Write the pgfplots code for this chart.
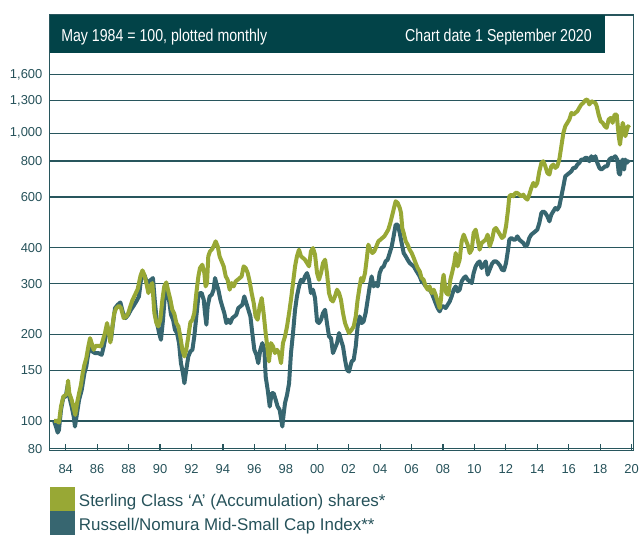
\documentclass[border=0pt]{standalone}
\usepackage{fontspec}
\setmainfont{Liberation Sans}
\newfontfamily\narrowfont[FakeStretch=0.82]{Liberation Sans}
\usepackage{pgfplots}
\pgfplotsset{compat=1.18}
\definecolor{grn}{RGB}{152,168,53}
\definecolor{tl}{RGB}{55,102,112}
\definecolor{hdr}{RGB}{2,67,72}
\definecolor{grd}{RGB}{40,86,93}
\definecolor{txt}{RGB}{38,82,90}
\begin{document}
\begin{tikzpicture}
\begin{axis}[
  scale only axis,
  width=437.7bp, height=326.8bp,
  ymode=log,
  xmin=1983.982, xmax=2021.107,
  ymin=78.8, ymax=2575,
  xtick={1985,1987,...,2021},
  xticklabels={84,86,88,90,92,94,96,98,00,02,04,06,08,10,12,14,16,18,20},
  ytick={80,100,150,200,300,400,600,800,1000,1300,1600},
  yticklabels={80,100,150,200,300,400,600,800,{1,000},{1,300},{1,600}},
  yminorticks=false,
  ymajorgrids,
  grid style={draw=grd, line width=0.9bp},
  axis line style={draw=grd, line width=0.9bp},
  tick pos=left,
  tick align=inside,
  major tick length=5.25bp,
  xtick style={draw=grd, line width=0.9bp},
  ytick style={draw=none},
  tick label style={font=\fontsize{9.75}{11}\selectfont, text=txt},
  xticklabel style={anchor=north, inner sep=0pt, yshift=-10bp},
  yticklabel style={anchor=east, inner sep=0pt, xshift=-5.3bp},
  legend style={at={(axis description cs:0.0005,-0.0840)}, anchor=north west,
    draw=none, fill=none, inner sep=0pt, outer sep=0pt, row sep=-1.5bp,
    font=\fontsize{12.75}{14}\selectfont, text=txt,
    cells={anchor=base west},
    nodes={inner sep=0pt, text depth=0pt},
    /tikz/every odd column/.append style={column sep=3bp}},
  legend image code/.code={\fill[#1] (0bp,-3.25bp) rectangle (15.75bp,13.05bp);},
]
\addlegendimage{color=grn, line width=3bp}
\addlegendentry{Sterling Class ‘A’ (Accumulation) shares*}
\addlegendimage{color=tl, line width=3bp}
\addlegendentry{Russell/Nomura Mid-Small Cap Index**}

% Russell/Nomura Mid-Small Cap Index
\addplot[color=tl, line width=3bp, line join=round, forget plot] coordinates {
(1984.26,100) (1984.38,95.6) (1984.49,91.1) (1984.57,93.0) (1984.70,109.2) (1984.85,120.9) (1985.00,121.5) (1985.13,133.4) (1985.25,119.9) (1985.38,112.2) (1985.51,103.5) (1985.59,95.6) (1985.72,106.3) (1985.85,118.3) (1986.02,128.2) (1986.19,146.5) (1986.31,154.6) (1986.44,172.1) (1986.57,186.4) (1986.69,174.4) (1986.86,172.1) (1987.08,172.1) (1987.29,169.8) (1987.42,181.5) (1987.54,196.6) (1987.63,213.0) (1987.75,202.0) (1987.88,191.4) (1988.01,218.8) (1988.14,246.7) (1988.31,253.4) (1988.48,258.1) (1988.65,237.0) (1988.81,227.7) (1988.98,233.8) (1989.15,243.4) (1989.32,251.3) (1989.49,260.2) (1989.66,270.9) (1989.79,309.5) (1989.92,326.5) (1990.04,317.9) (1990.17,301.4) (1990.30,305.5) (1990.43,309.5) (1990.55,313.7) (1990.68,256.8) (1990.81,218.8) (1990.94,202.0) (1991.06,191.4) (1991.19,224.7) (1991.32,278.2) (1991.44,285.8) (1991.57,263.7) (1991.70,233.8) (1991.83,224.7) (1991.95,207.4) (1992.08,202.0) (1992.21,186.4) (1992.33,158.8) (1992.46,146.5) (1992.55,135.2) (1992.67,150.5) (1992.80,167.5) (1992.93,174.4) (1993.06,176.7) (1993.18,196.6) (1993.31,230.7) (1993.44,270.9) (1993.54,278.2)
(1993.65,278.2) (1993.78,263.7) (1993.86,237.0) (1993.95,215.9) (1994.03,250.0) (1994.16,270.9) (1994.29,274.5) (1994.41,285.8) (1994.50,313.7) (1994.58,301.4) (1994.71,285.8) (1994.84,263.7) (1994.96,250.0) (1995.09,237.0) (1995.22,218.8) (1995.35,224.7) (1995.47,218.8) (1995.60,227.7) (1995.73,230.7) (1995.85,233.8) (1995.98,246.7) (1996.11,250.0) (1996.24,253.4) (1996.36,270.9) (1996.49,256.8) (1996.62,243.4) (1996.75,230.7) (1996.87,202.0) (1997.00,176.7) (1997.13,169.8) (1997.25,158.8) (1997.38,176.7) (1997.51,186.4) (1997.64,176.7) (1997.72,142.6) (1997.85,128.2) (1997.98,112.2) (1998.10,124.8) (1998.23,124.8) (1998.36,118.3) (1998.48,112.2) (1998.61,109.2) (1998.70,102.1) (1998.78,95.6) (1998.87,106.3) (1998.95,115.2) (1999.08,123.1) (1999.21,135.2) (1999.33,172.1) (1999.46,202.0) (1999.59,243.4) (1999.71,270.9) (1999.84,293.5) (1999.97,309.5) (2000.10,305.5) (2000.22,317.9) (2000.35,326.5) (2000.48,309.5) (2000.60,278.2) (2000.73,285.8) (2000.86,267.3) (2000.99,221.7) (2001.11,218.8) (2001.24,224.7) (2001.37,237.0) (2001.50,243.4) (2001.62,218.8) (2001.75,196.6) (2001.88,194.0) (2002.00,172.1) (2002.13,179.1) (2002.26,186.4) (2002.39,202.0) (2002.51,191.4) (2002.64,181.5) (2002.77,163.1) (2002.89,150.5) (2003.02,148.4)
(2003.19,160.9) (2003.32,163.1) (2003.45,181.5) (2003.57,213.0) (2003.70,230.7) (2003.83,218.8) (2003.95,221.7) (2004.08,237.0) (2004.21,263.7) (2004.34,293.5) (2004.46,317.9) (2004.59,293.5) (2004.72,301.4) (2004.85,293.5) (2004.97,326.5) (2005.10,339.9) (2005.23,344.5) (2005.35,358.6) (2005.48,363.4) (2005.61,383.3) (2005.74,404.3) (2005.86,438.1) (2005.99,481.0) (2006.12,481.0) (2006.25,450.0) (2006.37,415.3) (2006.50,383.3) (2006.63,373.3) (2006.75,363.4) (2006.88,353.8) (2007.01,349.1) (2007.14,344.5) (2007.26,335.5) (2007.39,326.5) (2007.52,317.9) (2007.64,305.5) (2007.77,301.4) (2007.90,293.5) (2008.03,289.6) (2008.15,285.8) (2008.28,278.2) (2008.41,267.3) (2008.53,256.8) (2008.66,246.7) (2008.79,240.2) (2008.92,250.0) (2009.04,250.0) (2009.17,246.7) (2009.30,253.4) (2009.43,260.2) (2009.55,270.9) (2009.68,285.8) (2009.81,293.5) (2009.93,281.9) (2010.06,285.8) (2010.19,305.5) (2010.32,313.7) (2010.44,317.9) (2010.57,309.5) (2010.70,305.5) (2010.83,301.4) (2010.95,326.5) (2011.08,344.5) (2011.21,353.8) (2011.33,358.6) (2011.46,339.9) (2011.59,349.1) (2011.72,358.6) (2011.84,322.2) (2011.97,335.5)
(2012.12,351.9) (2012.25,358.6) (2012.37,358.6) (2012.50,353.8) (2012.63,346.3) (2012.75,335.5) (2012.88,333.6) (2013.01,353.8) (2013.14,393.7) (2013.22,426.6) (2013.35,432.3) (2013.48,426.6) (2013.60,426.6) (2013.73,438.1) (2013.86,426.6) (2013.98,420.9) (2014.11,415.3) (2014.24,404.3) (2014.37,409.8) (2014.49,432.3) (2014.62,444.0) (2014.75,450.0) (2014.88,456.0) (2015.00,462.1) (2015.13,487.5) (2015.26,528.1) (2015.38,535.2) (2015.51,528.1) (2015.64,514.2) (2015.77,494.0) (2015.89,521.1) (2016.02,535.2) (2016.15,549.7) (2016.27,542.4) (2016.40,557.1) (2016.53,603.5) (2016.66,654.0) (2016.78,708.5) (2016.91,718.0) (2017.04,727.7) (2017.17,737.5) (2017.29,757.5) (2017.42,757.5) (2017.55,778.0) (2017.67,788.3) (2017.80,809.7) (2017.93,809.7) (2018.06,820.6) (2018.18,820.6) (2018.31,799.0) (2018.44,831.6) (2018.56,809.7) (2018.69,831.6) (2018.82,788.3) (2018.95,757.5) (2019.07,747.4) (2019.20,757.5) (2019.33,767.6) (2019.45,767.6) (2019.58,809.7) (2019.71,820.6) (2019.84,820.6) (2019.96,831.6) (2020.09,809.7) (2020.18,727.7) (2020.26,718.0) (2020.35,788.3) (2020.43,809.7) (2020.52,747.4) (2020.60,809.7) (2020.68,788.3) (2020.77,799.0) (2020.85,788.3)
};

% Sterling Class A (Accumulation) shares
\addplot[color=grn, line width=3bp, line join=round, forget plot] coordinates {
(1984.26,100) (1984.43,100) (1984.57,98.7) (1984.70,112.2) (1984.85,121.5) (1985.00,123.1) (1985.08,124.8) (1985.15,138.1) (1985.23,124.8) (1985.38,118.3) (1985.51,110.7) (1985.61,104.9) (1985.72,115.2) (1985.85,124.8) (1985.97,133.4) (1986.08,146.5) (1986.19,156.7) (1986.31,165.3) (1986.44,181.5) (1986.55,194.0) (1986.65,186.4) (1986.78,176.7) (1986.91,182.4) (1987.08,182.4) (1987.25,181.5) (1987.37,191.4) (1987.50,202.0) (1987.63,218.8) (1987.73,204.6) (1987.84,187.4) (1987.97,213.0) (1988.09,237.0) (1988.22,246.7) (1988.39,251.3) (1988.52,246.7) (1988.69,227.7) (1988.86,230.7) (1988.98,237.0) (1989.11,250.0) (1989.24,262.3) (1989.41,274.5) (1989.58,287.3) (1989.75,317.9) (1989.88,333.6) (1990.00,322.2) (1990.13,301.4) (1990.26,278.2) (1990.38,293.5) (1990.51,301.4) (1990.64,237.0) (1990.77,218.8) (1990.89,213.0) (1991.02,224.7) (1991.15,263.7) (1991.27,293.5) (1991.40,303.0) (1991.53,281.9) (1991.66,263.7) (1991.78,243.4) (1991.91,235.7) (1992.04,218.8) (1992.17,213.0) (1992.29,196.6) (1992.42,176.7) (1992.55,167.5) (1992.67,176.7) (1992.80,196.6) (1992.93,220.0) (1993.06,224.7) (1993.18,237.0) (1993.31,278.2) (1993.44,317.9) (1993.54,339.9)
(1993.69,349.1) (1993.82,326.5) (1993.90,293.5) (1993.99,301.4) (1994.07,373.3) (1994.18,388.5) (1994.29,393.7) (1994.41,404.3) (1994.54,420.9) (1994.67,404.3) (1994.79,373.3) (1994.92,358.6) (1995.05,344.5) (1995.18,317.9) (1995.30,309.5) (1995.43,285.8) (1995.56,301.4) (1995.69,293.5) (1995.81,305.5) (1995.94,309.5) (1996.07,313.7) (1996.19,317.9) (1996.32,344.5) (1996.45,339.9) (1996.58,326.5) (1996.70,305.5) (1996.83,278.2) (1996.96,256.8) (1997.08,230.7) (1997.21,224.7) (1997.34,250.0) (1997.47,267.3) (1997.59,237.0) (1997.72,202.0) (1997.85,176.7) (1997.93,160.9) (1998.06,186.4) (1998.19,181.5) (1998.31,172.1) (1998.44,176.7) (1998.57,172.1) (1998.70,158.8) (1998.82,186.4) (1998.95,196.6) (1999.08,213.0) (1999.21,237.0) (1999.33,263.7) (1999.46,301.4) (1999.59,344.5) (1999.71,373.3) (1999.84,393.7) (1999.97,373.3) (2000.10,368.3) (2000.22,363.4) (2000.35,353.8) (2000.48,344.5) (2000.60,388.5) (2000.73,399.0) (2000.86,378.3) (2000.99,326.5) (2001.11,309.5) (2001.24,326.5) (2001.37,353.8) (2001.50,363.4) (2001.62,326.5) (2001.75,278.2) (2001.88,263.7) (2002.00,260.2) (2002.13,270.9) (2002.26,285.8) (2002.39,278.2) (2002.51,263.7) (2002.64,237.0) (2002.77,218.8) (2002.89,210.2) (2003.02,202.0)
(2003.19,207.4) (2003.32,213.0) (2003.45,230.7) (2003.57,263.7) (2003.70,293.5) (2003.79,313.7) (2003.91,305.5) (2004.04,326.5) (2004.17,373.3) (2004.25,409.8) (2004.38,393.7) (2004.51,383.3) (2004.63,388.5) (2004.76,404.3) (2004.89,420.9) (2005.02,426.6) (2005.14,432.3) (2005.27,438.1) (2005.40,450.0) (2005.52,462.1) (2005.65,487.5) (2005.78,521.1) (2005.91,557.1) (2005.99,579.9) (2006.12,572.2) (2006.25,549.7) (2006.33,528.1) (2006.41,468.3) (2006.50,450.0) (2006.63,420.9) (2006.75,409.8) (2006.88,393.7) (2007.01,383.3) (2007.14,368.3) (2007.26,353.8) (2007.39,339.9) (2007.52,331.0) (2007.64,313.7) (2007.77,309.5) (2007.90,293.5) (2008.03,285.8) (2008.15,293.5) (2008.28,278.2) (2008.41,285.8) (2008.53,274.5) (2008.66,260.2) (2008.79,246.7) (2008.87,263.7) (2008.96,301.4) (2009.04,322.2) (2009.13,293.5) (2009.21,278.2) (2009.34,274.5) (2009.47,309.5) (2009.60,331.0) (2009.72,353.8) (2009.81,383.3) (2009.93,344.5) (2010.06,363.4) (2010.19,420.9) (2010.32,444.0) (2010.44,426.6) (2010.57,409.8) (2010.70,383.3) (2010.83,393.7) (2010.95,450.0) (2011.08,462.1) (2011.21,426.6) (2011.33,393.7) (2011.46,415.3) (2011.59,420.9) (2011.72,426.6) (2011.84,444.0) (2011.97,404.3)
(2012.12,426.6) (2012.25,462.1) (2012.37,468.3) (2012.50,456.0) (2012.63,444.0) (2012.75,432.3) (2012.88,438.1) (2013.01,474.6) (2013.14,542.4) (2013.22,603.5) (2013.35,611.6) (2013.48,603.5) (2013.60,619.9) (2013.73,619.9) (2013.86,611.6) (2013.98,603.5) (2014.11,611.6) (2014.24,595.5) (2014.37,587.7) (2014.49,611.6) (2014.62,645.3) (2014.75,671.7) (2014.88,654.0) (2015.00,671.7) (2015.13,737.5) (2015.26,788.3) (2015.38,799.0) (2015.51,767.6) (2015.64,727.7) (2015.77,718.0) (2015.89,767.6) (2016.02,778.0) (2016.15,757.5) (2016.27,767.6) (2016.40,809.7) (2016.53,901.0) (2016.66,1002.6) (2016.78,1057.6) (2016.91,1086.3) (2017.04,1115.7) (2017.17,1176.9) (2017.29,1160.4) (2017.42,1176.9) (2017.55,1192.6) (2017.67,1224.9) (2017.80,1258.1) (2017.93,1275.0) (2018.06,1302.6) (2018.18,1309.6) (2018.31,1258.1) (2018.44,1291.5) (2018.56,1282.0) (2018.69,1275.0) (2018.78,1240.9) (2018.90,1160.4) (2019.03,1100.7) (2019.16,1086.3) (2019.29,1057.6) (2019.41,1043.7) (2019.54,1115.7) (2019.67,1130.3) (2019.79,1086.3) (2019.92,1160.4) (2020.05,1160.4) (2020.18,976.2) (2020.26,913.1) (2020.35,1002.6) (2020.43,1086.3) (2020.52,1043.7) (2020.60,976.2) (2020.68,1016.0) (2020.77,1057.6) (2020.85,1043.7)
};

\fill[hdr] (rel axis cs:0,1) rectangle (rel axis cs:0.9515,0.9137);
\node[anchor=base west, inner sep=0pt, xshift=8.5bp, yshift=-20.25bp, text=white, font=\narrowfont\fontsize{13}{15}\selectfont] at (rel axis cs:0,1) {May 1984 = 100, plotted monthly};
\node[anchor=base east, inner sep=0pt, xshift=-9.75bp, yshift=-20.25bp, text=white, font=\narrowfont\fontsize{13}{15}\selectfont] at (rel axis cs:0.9515,1) {Chart date 1 September 2020};
\coordinate (SW) at (rel axis cs:0,0);
\coordinate (NE) at (rel axis cs:1,1);
\end{axis}
\pgfresetboundingbox
\path ([xshift=-37.275bp,yshift=-62.475bp]SW) rectangle ([xshift=5.775bp,yshift=11.25bp]NE);
\end{tikzpicture}
\end{document}
